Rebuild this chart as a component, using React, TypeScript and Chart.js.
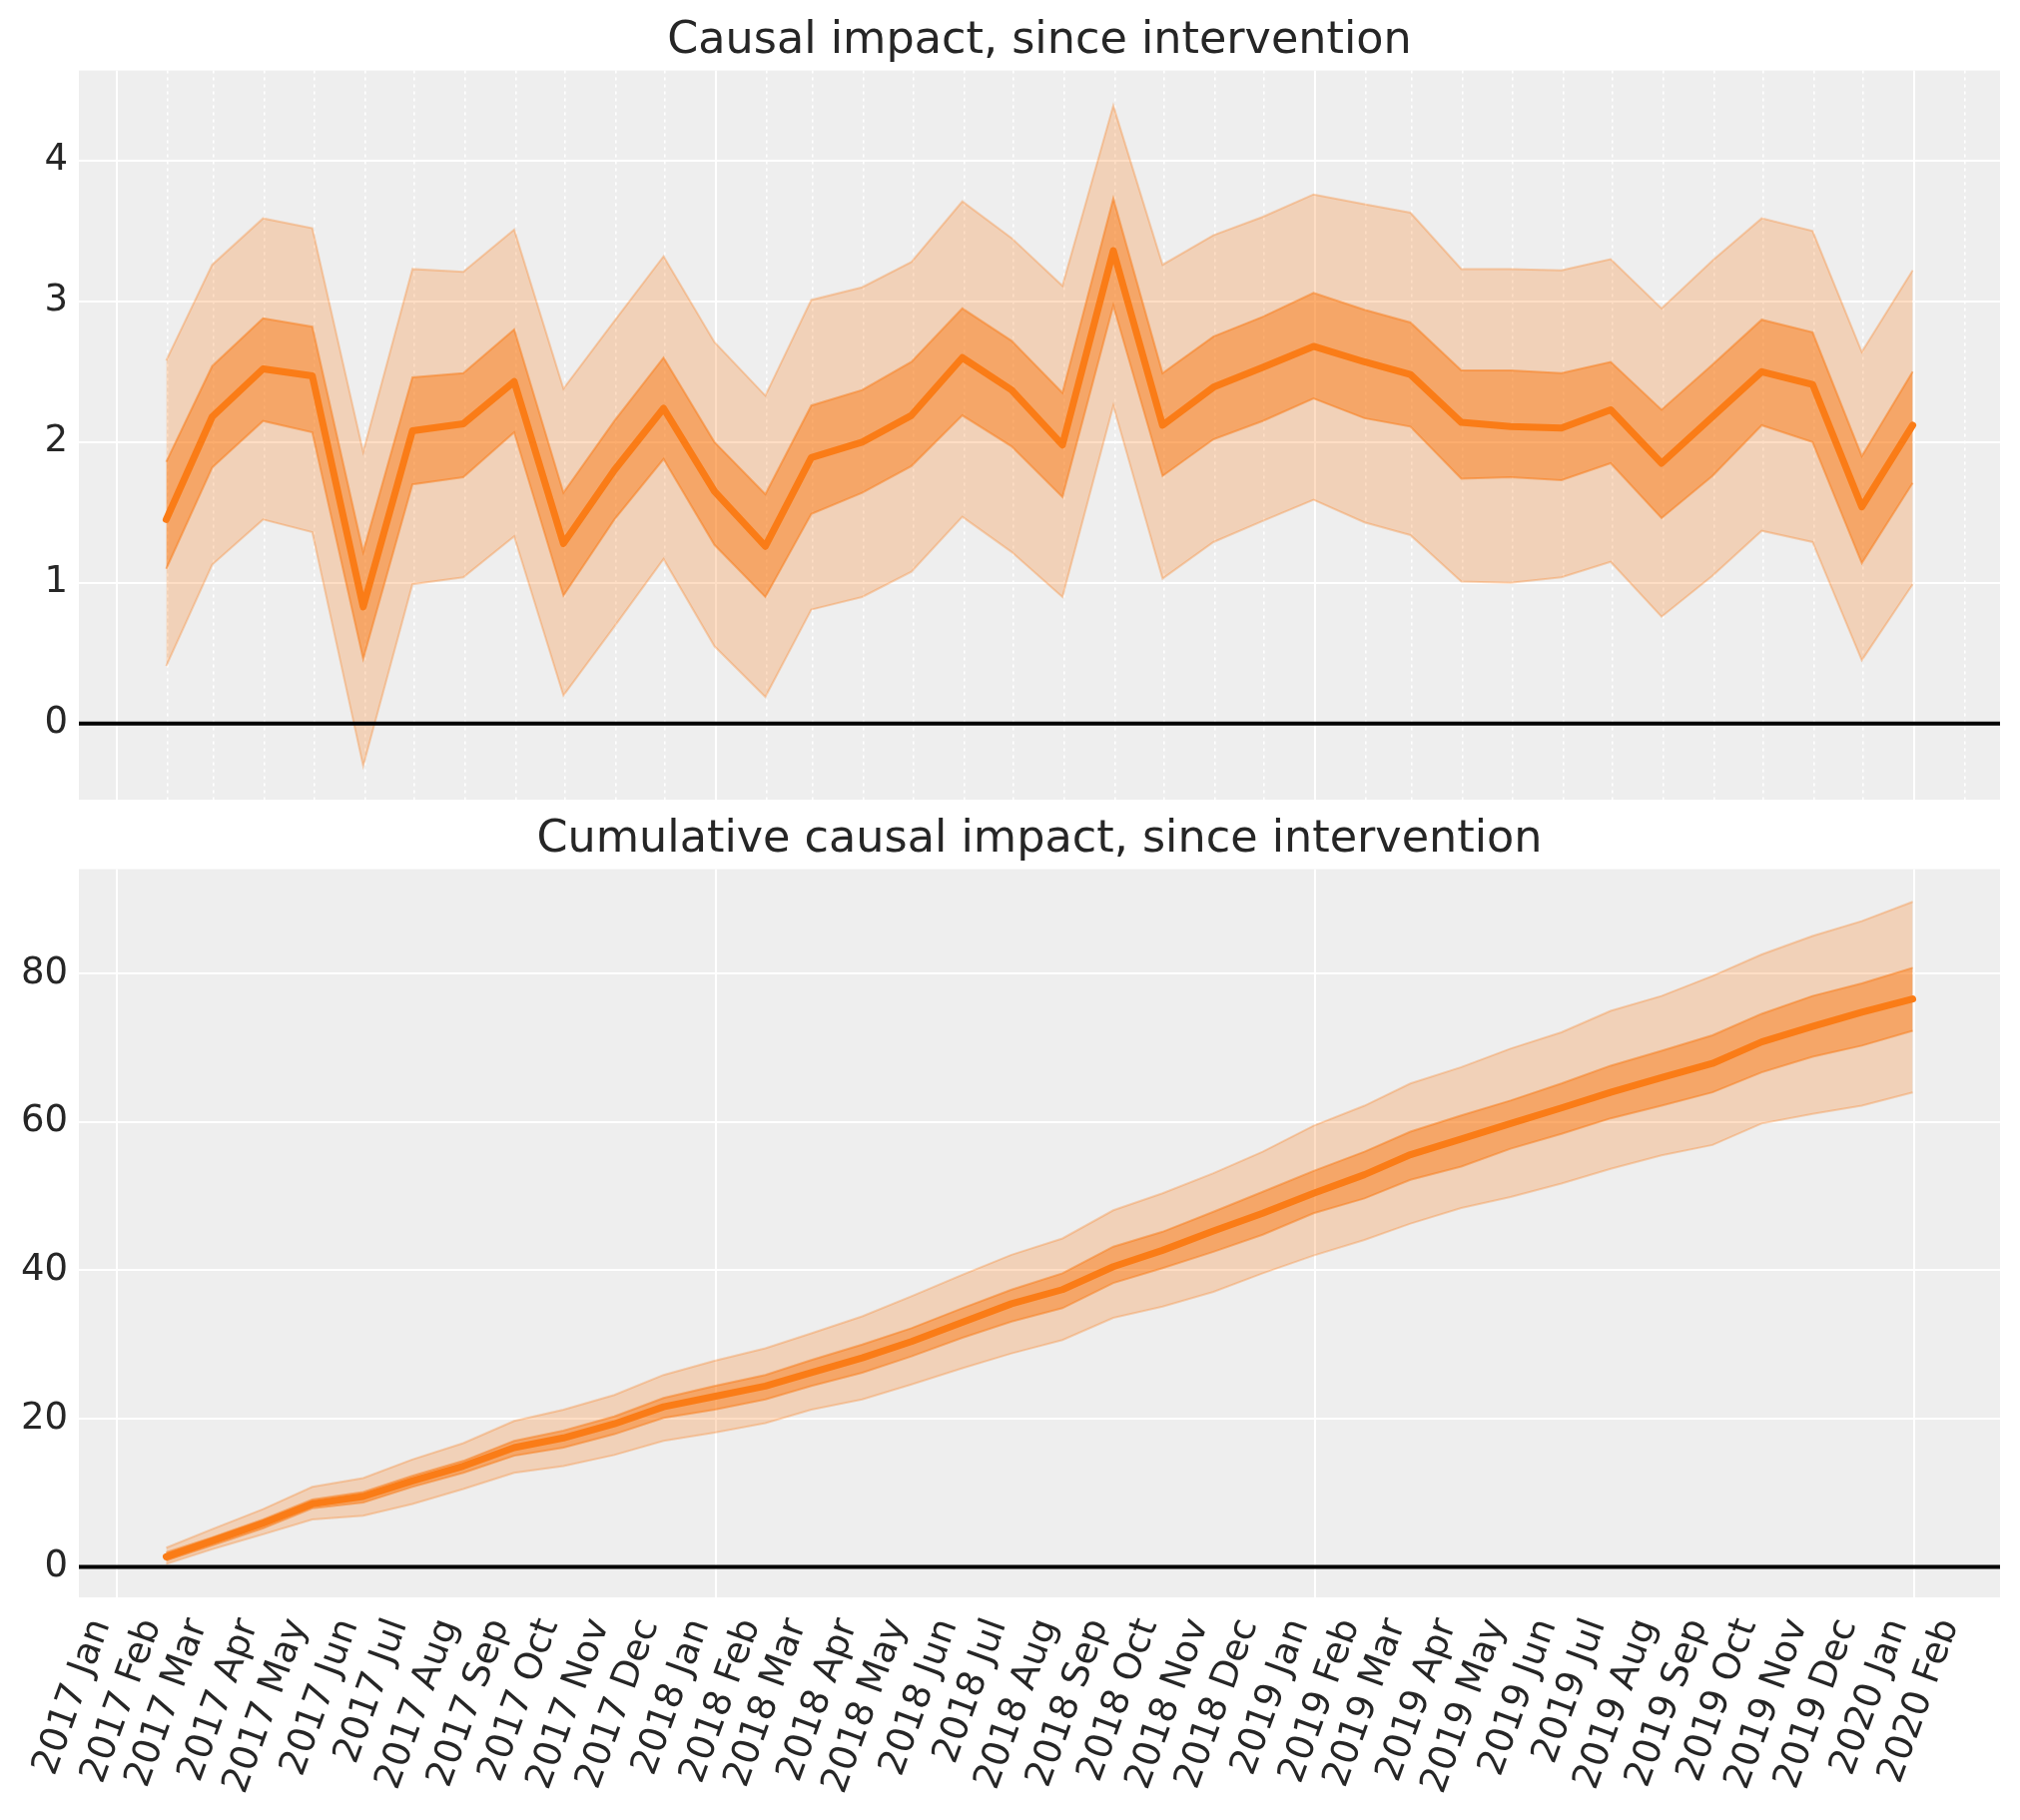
import React, { useEffect, useRef } from "react";
import { Chart, registerables } from "chart.js";

Chart.register(...registerables);

// ---------------- data ----------------
const dates = [
  "2017-01-31", "2017-02-28", "2017-03-31", "2017-04-30", "2017-05-31", "2017-06-30",
  "2017-07-31", "2017-08-31", "2017-09-30", "2017-10-31", "2017-11-30", "2017-12-31",
  "2018-01-31", "2018-02-28", "2018-03-31", "2018-04-30", "2018-05-31", "2018-06-30",
  "2018-07-31", "2018-08-31", "2018-09-30", "2018-10-31", "2018-11-30", "2018-12-31",
  "2019-01-31", "2019-02-28", "2019-03-31", "2019-04-30", "2019-05-31", "2019-06-30",
  "2019-07-31", "2019-08-31", "2019-09-30", "2019-10-31", "2019-11-30", "2019-12-31",
];

const tickLabels = [
  "2017 Jan", "2017 Feb", "2017 Mar", "2017 Apr", "2017 May", "2017 Jun",
  "2017 Jul", "2017 Aug", "2017 Sep", "2017 Oct", "2017 Nov", "2017 Dec",
  "2018 Jan", "2018 Feb", "2018 Mar", "2018 Apr", "2018 May", "2018 Jun",
  "2018 Jul", "2018 Aug", "2018 Sep", "2018 Oct", "2018 Nov", "2018 Dec",
  "2019 Jan", "2019 Feb", "2019 Mar", "2019 Apr", "2019 May", "2019 Jun",
  "2019 Jul", "2019 Aug", "2019 Sep", "2019 Oct", "2019 Nov", "2019 Dec",
  "2020 Jan", "2020 Feb",
];

const impactMean = [1.45, 2.18, 2.52, 2.47, 0.83, 2.08, 2.13, 2.43, 1.28, 1.80, 2.24, 1.65, 1.26, 1.89, 2.00, 2.19, 2.60, 2.37, 1.98, 3.36, 2.12, 2.39, 2.53, 2.68, 2.57, 2.48, 2.14, 2.11, 2.10, 2.23, 1.85, 2.18, 2.50, 2.41, 1.54, 2.12];
const impactInnerHigh = [1.86, 2.54, 2.88, 2.82, 1.22, 2.46, 2.49, 2.80, 1.64, 2.15, 2.60, 2.00, 1.63, 2.26, 2.37, 2.57, 2.95, 2.72, 2.35, 3.73, 2.49, 2.75, 2.89, 3.06, 2.94, 2.85, 2.51, 2.51, 2.49, 2.57, 2.23, 2.55, 2.87, 2.78, 1.90, 2.50];
const impactInnerLow = [1.10, 1.82, 2.15, 2.07, 0.46, 1.70, 1.75, 2.07, 0.91, 1.45, 1.88, 1.27, 0.90, 1.49, 1.64, 1.83, 2.19, 1.97, 1.61, 2.97, 1.76, 2.02, 2.15, 2.31, 2.17, 2.11, 1.74, 1.75, 1.73, 1.85, 1.46, 1.76, 2.12, 2.00, 1.14, 1.71];
const impactOuterHigh = [2.58, 3.26, 3.59, 3.52, 1.93, 3.23, 3.21, 3.51, 2.38, 2.86, 3.32, 2.71, 2.33, 3.01, 3.10, 3.28, 3.71, 3.45, 3.11, 4.39, 3.26, 3.47, 3.60, 3.76, 3.69, 3.63, 3.23, 3.23, 3.22, 3.30, 2.95, 3.29, 3.59, 3.50, 2.64, 3.22];
const impactOuterLow = [0.41, 1.13, 1.45, 1.36, -0.30, 0.99, 1.04, 1.33, 0.20, 0.69, 1.17, 0.55, 0.19, 0.81, 0.90, 1.08, 1.47, 1.22, 0.90, 2.26, 1.03, 1.29, 1.44, 1.59, 1.43, 1.34, 1.01, 1.00, 1.04, 1.15, 0.76, 1.05, 1.37, 1.29, 0.45, 0.99];

const cumMean = [1.37, 3.5, 5.9, 8.5, 9.5, 11.6, 13.6, 16.1, 17.4, 19.3, 21.6, 23.0, 24.4, 26.2, 28.2, 30.4, 33.0, 35.5, 37.4, 40.5, 42.7, 45.3, 47.7, 50.4, 52.9, 55.6, 57.7, 59.8, 61.9, 64.0, 66.0, 67.9, 70.8, 72.9, 74.8, 76.6];
const cumInnerHigh = [1.95, 4.0, 6.4, 9.1, 10.1, 12.3, 14.3, 17.0, 18.4, 20.3, 22.8, 24.4, 25.9, 27.9, 30.0, 32.2, 34.9, 37.4, 39.6, 43.2, 45.2, 47.9, 50.6, 53.4, 56.0, 58.7, 60.9, 62.9, 65.2, 67.6, 69.6, 71.7, 74.6, 77.0, 78.7, 80.8];
const cumInnerLow = [0.85, 2.9, 5.2, 7.9, 8.7, 10.8, 12.7, 15.0, 16.1, 17.9, 20.1, 21.2, 22.6, 24.4, 26.2, 28.4, 30.9, 33.1, 34.9, 38.3, 40.3, 42.5, 44.8, 47.7, 49.7, 52.2, 54.0, 56.4, 58.4, 60.5, 62.2, 64.0, 66.7, 68.8, 70.3, 72.3];
const cumOuterHigh = [2.6, 5.1, 7.8, 10.8, 12.0, 14.5, 16.7, 19.7, 21.2, 23.2, 25.9, 27.8, 29.5, 31.5, 33.8, 36.5, 39.4, 42.1, 44.3, 48.1, 50.4, 53.1, 56.0, 59.5, 62.2, 65.2, 67.4, 69.9, 72.1, 75.0, 77.0, 79.7, 82.6, 85.1, 87.1, 89.7];
const cumOuterLow = [0.4, 2.4, 4.4, 6.4, 6.9, 8.5, 10.5, 12.7, 13.6, 15.1, 17.0, 18.1, 19.4, 21.2, 22.6, 24.6, 26.8, 28.8, 30.6, 33.6, 35.1, 37.1, 39.6, 42.0, 44.1, 46.3, 48.4, 49.9, 51.7, 53.7, 55.5, 56.9, 59.8, 61.1, 62.2, 64.0];

const impactYTicks = [0, 1, 2, 3, 4];
const cumYTicks = [0, 20, 40, 60, 80];

const titleTop = "Causal impact, since intervention";
const titleBottom = "Cumulative causal impact, since intervention";

// ---------------- helpers ----------------
const MONTHS = ["Jan", "Feb", "Mar", "Apr", "May", "Jun", "Jul", "Aug", "Sep", "Oct", "Nov", "Dec"];
const DAY = 86400000;
const toDay = (s: string) => Date.parse(s + "T00:00:00Z") / DAY;
const labelToDay = (l: string) => {
  const [y, m] = l.split(" ");
  return Date.UTC(Number(y), MONTHS.indexOf(m), 1) / DAY;
};
const xs = dates.map(toDay);
const xRange = xs[xs.length - 1] - xs[0];
const X_MIN = xs[0] - 0.05 * xRange;
const X_MAX = xs[xs.length - 1] + 0.05 * xRange;
const tickDays = tickLabels.map(labelToDay);

const FONT = "DejaVu Sans";
const TEXT = "#262626";
const ORANGE = "#fa7c17";
const TICK_SIZE = 37;
const pts = (arr: number[]) => xs.map((x, i) => ({ x, y: arr[i] }));

const bgPlugin = {
  id: "plotBg",
  beforeDraw(chart: any) {
    const { ctx, chartArea: a } = chart;
    ctx.save();
    ctx.fillStyle = "#eeeeee";
    ctx.fillRect(a.left, a.top, a.right - a.left, a.bottom - a.top);
    ctx.restore();
  },
};

// rotated month labels, placed with the x scale (matplotlib-style: rotation 70, right aligned)
const makeXLabelPlugin = (show: boolean) => ({
  id: "rotatedXLabels",
  afterDraw(chart: any) {
    if (!show) return;
    const { ctx, chartArea } = chart;
    const xScale = chart.scales.x;
    const ang = (70 * Math.PI) / 180;
    ctx.save();
    ctx.font = `${TICK_SIZE}px "${FONT}"`;
    ctx.fillStyle = TEXT;
    ctx.textAlign = "right";
    ctx.textBaseline = "alphabetic";
    tickDays.forEach((d, i) => {
      const px = xScale.getPixelForValue(d);
      ctx.save();
      ctx.translate(px - 0.195 * TICK_SIZE, chartArea.bottom + 17 + 0.26 * TICK_SIZE);
      ctx.rotate(-ang);
      ctx.fillText(tickLabels[i], 0, 0);
      ctx.restore();
    });
    ctx.restore();
  },
});

type Opts = {
  title: string;
  mean: number[];
  innerLow: number[];
  innerHigh: number[];
  outerLow: number[];
  outerHigh: number[];
  yMin: number;
  yMax: number;
  yTicks: number[];
  showXLabels: boolean;
  minorGrid: boolean;
  xAxisHeight: number;
  titlePad: { top: number; bottom: number };
};

function buildConfig(o: Opts): any {
  const isYear = (i: number) => (tickLabels[i] || "").endsWith("Jan");
  return {
    type: "line",
    data: {
      datasets: [
        {
          data: pts(o.outerLow),
          borderColor: "rgba(250,124,23,0.3)",
          borderWidth: 2,
          pointRadius: 0,
          fill: false,
          order: 10,
        },
        {
          data: pts(o.outerHigh),
          borderColor: "rgba(250,124,23,0.3)",
          borderWidth: 2,
          backgroundColor: "rgba(250,124,23,0.25)",
          pointRadius: 0,
          fill: 0,
          order: 9,
        },
        {
          data: pts(o.innerLow),
          borderColor: "rgba(250,124,23,0.5)",
          borderWidth: 2,
          pointRadius: 0,
          fill: false,
          order: 8,
        },
        {
          data: pts(o.innerHigh),
          borderColor: "rgba(250,124,23,0.5)",
          borderWidth: 2,
          backgroundColor: "rgba(250,124,23,0.5)",
          pointRadius: 0,
          fill: 2,
          order: 7,
        },
        {
          data: pts(o.mean),
          borderColor: ORANGE,
          borderWidth: 7,
          borderJoinStyle: "round",
          borderCapStyle: "round",
          pointRadius: 0,
          fill: false,
          order: 6,
        },
        {
          data: [
            { x: X_MIN, y: 0 },
            { x: X_MAX, y: 0 },
          ],
          borderColor: "#000000",
          borderWidth: 4,
          pointRadius: 0,
          fill: false,
          order: 5,
        },
      ],
    },
    options: {
      responsive: false,
      animation: false,
      devicePixelRatio: 1,
      events: [],
      layout: { padding: { left: 0, right: 20, top: 0, bottom: 0 } },
      plugins: {
        legend: { display: false },
        tooltip: { enabled: false },
        title: {
          display: true,
          fullSize: false,
          text: o.title,
          color: TEXT,
          font: { family: FONT, size: 44.5, weight: "normal", lineHeight: 1.2 },
          padding: o.titlePad,
        },
      },
      scales: {
        x: {
          type: "linear",
          min: X_MIN,
          max: X_MAX,
          afterBuildTicks: (scale: any) => {
            scale.ticks = tickDays.map((v) => ({ value: v }));
          },
          afterFit: (scale: any) => {
            scale.height = o.xAxisHeight;
            scale.paddingLeft = 0;
            scale.paddingRight = 0;
          },
          grid: {
            drawTicks: false,
            tickLength: 0,
            color: (ctx: any) =>
              isYear(ctx.index) ? "#ffffff" : o.minorGrid ? "#ffffff" : "rgba(255,255,255,0)",
            lineWidth: (ctx: any) => (isYear(ctx.index) ? 2 : 1.6),
          },
          border: {
            display: false,
            dash: (ctx: any) => (isYear(ctx.index) ? [] : [3, 4]),
          },
          ticks: {
            display: false,
            autoSkip: false,
            callback: (_v: any, i: number) => tickLabels[i],
          },
        },
        y: {
          type: "linear",
          min: o.yMin,
          max: o.yMax,
          afterBuildTicks: (scale: any) => {
            scale.ticks = o.yTicks.map((v) => ({ value: v }));
          },
          afterFit: (scale: any) => {
            scale.width = 79;
            scale.paddingTop = 0;
            scale.paddingBottom = 0;
          },
          grid: { drawTicks: false, tickLength: 0, color: "#ffffff", lineWidth: 2 },
          border: { display: false },
          ticks: {
            padding: 11,
            color: TEXT,
            font: { family: FONT, size: TICK_SIZE },
            callback: (v: any) => String(v),
          },
        },
      },
    },
    plugins: [bgPlugin, makeXLabelPlugin(o.showXLabels)],
  };
}

export default function App() {
  const topRef = useRef<HTMLCanvasElement>(null);
  const botRef = useRef<HTMLCanvasElement>(null);

  useEffect(() => {
    document.body.style.margin = "0";
    const c1 = new Chart(
      topRef.current as HTMLCanvasElement,
      buildConfig({
        title: titleTop,
        mean: impactMean,
        innerLow: impactInnerLow,
        innerHigh: impactInnerHigh,
        outerLow: impactOuterLow,
        outerHigh: impactOuterHigh,
        yMin: -0.54,
        yMax: 4.64,
        yTicks: impactYTicks,
        showXLabels: false,
        minorGrid: true,
        xAxisHeight: 9,
        titlePad: { top: 15, bottom: 2.2 },
      })
    );
    const c2 = new Chart(
      botRef.current as HTMLCanvasElement,
      buildConfig({
        title: titleBottom,
        mean: cumMean,
        innerLow: cumInnerLow,
        innerHigh: cumInnerHigh,
        outerLow: cumOuterLow,
        outerHigh: cumOuterHigh,
        yMin: -4.1,
        yMax: 94.1,
        yTicks: cumYTicks,
        showXLabels: true,
        minorGrid: false,
        xAxisHeight: 223,
        titlePad: { top: 5, bottom: 2.2 },
      })
    );
    return () => {
      c1.destroy();
      c2.destroy();
    };
  }, []);

  return (
    <div style={{ position: "relative", width: 2023, height: 1823, background: "#ffffff" }}>
      <canvas
        ref={topRef}
        width={2023}
        height={810}
        style={{ position: "absolute", left: 0, top: 0, width: 2023, height: 810 }}
      />
      <canvas
        ref={botRef}
        width={2023}
        height={1013}
        style={{ position: "absolute", left: 0, top: 810, width: 2023, height: 1013 }}
      />
    </div>
  );
}
